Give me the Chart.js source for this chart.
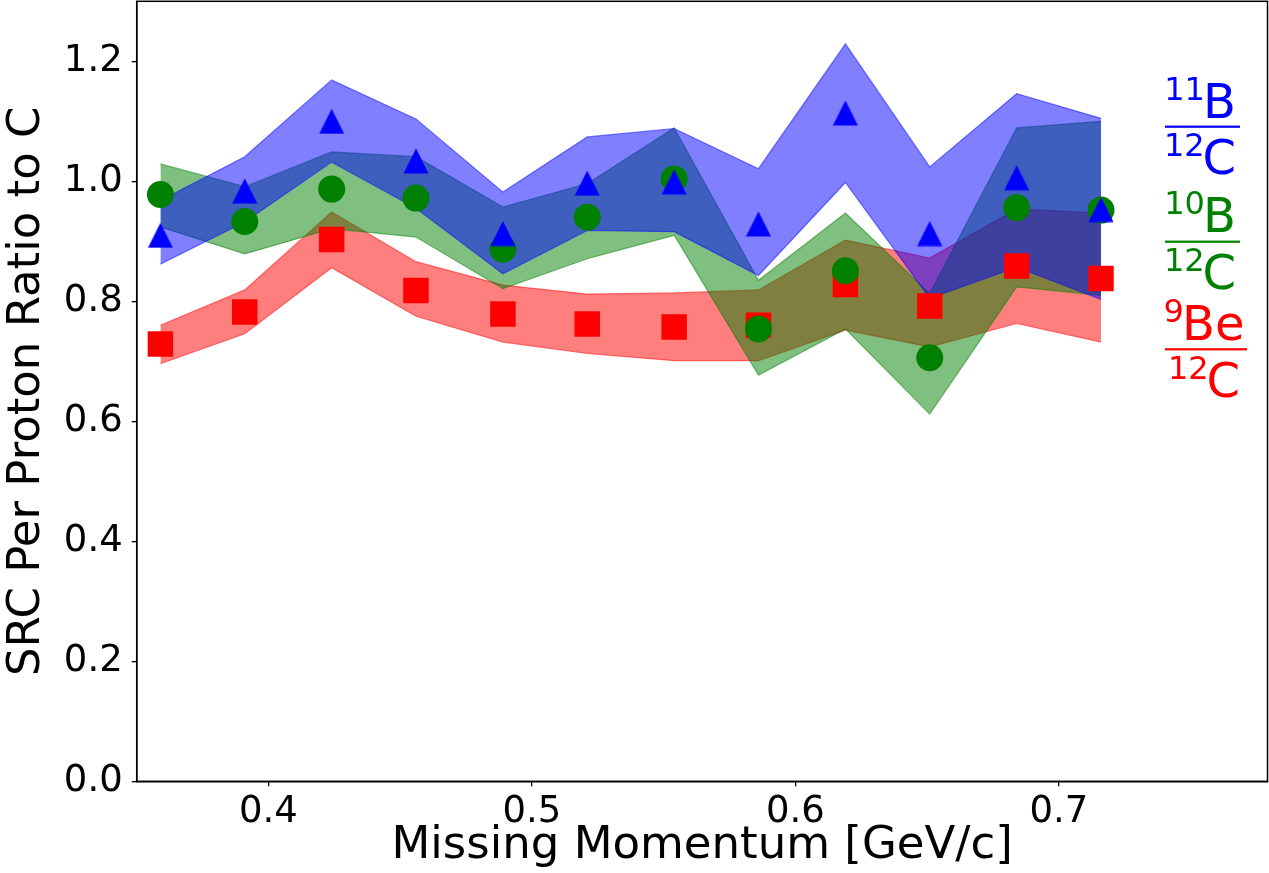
<!DOCTYPE html>
<html>
<head>
<meta charset="utf-8">
<script src="https://cdn.jsdelivr.net/npm/chart.js"></script>
<style>
  html, body { margin: 0; padding: 0; background: #fff; }
  #wrap { width: 1269px; height: 873px; }
</style>
</head>
<body>
<div id="wrap"><canvas id="chart" width="1269" height="873"></canvas></div>
<script>
// missing momentum bin centres
const xVals = [0.359, 0.391, 0.424, 0.456, 0.489, 0.521, 0.554, 0.586, 0.619, 0.651, 0.684, 0.716];

// 11B / 12C
const blueVals = [0.910, 0.984, 1.100, 1.034, 0.913, 0.997, 0.999, 0.929, 1.114, 0.913, 1.006, 0.953];
const blueHigh = [0.968, 1.041, 1.169, 1.104, 0.982, 1.074, 1.088, 1.021, 1.229, 1.024, 1.146, 1.105];
const blueLow  = [0.862, 0.932, 1.032, 0.955, 0.846, 0.918, 0.916, 0.843, 0.998, 0.805, 0.857, 0.803];

// 10B / 12C
const greenVals = [0.978, 0.933, 0.987, 0.972, 0.887, 0.940, 1.004, 0.754, 0.851, 0.706, 0.956, 0.952];
const greenHigh = [1.029, 0.991, 1.049, 1.041, 0.957, 0.996, 1.089, 0.835, 0.947, 0.813, 1.089, 1.100];
const greenLow  = [0.924, 0.879, 0.921, 0.907, 0.821, 0.871, 0.910, 0.677, 0.754, 0.612, 0.824, 0.810];

// 9Be / 12C
const redVals = [0.729, 0.782, 0.903, 0.818, 0.779, 0.762, 0.757, 0.760, 0.828, 0.792, 0.859, 0.838];
const redHigh = [0.760, 0.819, 0.949, 0.866, 0.827, 0.812, 0.814, 0.819, 0.902, 0.872, 0.954, 0.947];
const redLow  = [0.696, 0.746, 0.856, 0.775, 0.732, 0.713, 0.701, 0.701, 0.752, 0.724, 0.763, 0.732];

const xTicks = [0.4, 0.5, 0.6, 0.7];
const yTicks = [0.0, 0.2, 0.4, 0.6, 0.8, 1.0, 1.2];

const FONT = "'DejaVu Sans', sans-serif";

function pts(ys) {
    return xVals.map((x, i) => ({ x: x, y: ys[i] }));
}

function triangleMarker(size, color) {
    const c = document.createElement('canvas');
    c.width = size;
    c.height = size;
    const g = c.getContext('2d');
    g.fillStyle = color;
    g.beginPath();
    g.moveTo(size / 2, 0.5);
    g.lineTo(size - 0.5, size - 0.5);
    g.lineTo(0.5, size - 0.5);
    g.closePath();
    g.fill();
    return c;
}

function band(low, high, rgb, order) {
    const fill = 'rgba(' + rgb + ',0.5)';
    return [
        {
            data: pts(low), showLine: true, fill: false,
            borderColor: fill, borderWidth: 1.2, pointRadius: 0, order: order
        },
        {
            data: pts(high), showLine: true, fill: '-1',
            backgroundColor: fill, borderColor: fill, borderWidth: 1.2, pointRadius: 0, order: order
        }
    ];
}

// keep the plot box fixed, no extra room for end labels
function fixBox(s, w, h) {
    if (w) s.width = w;
    if (h) s.height = h;
    s.paddingTop = 0;
    s.paddingBottom = 0;
    s.paddingLeft = 0;
    s.paddingRight = 0;
}

// frame on top and right + fraction labels
const framePlugin = {
    id: 'frame',
    afterDraw(chart) {
        const ctx = chart.ctx;
        const a = chart.chartArea;
        ctx.save();
        ctx.strokeStyle = '#000';
        ctx.lineWidth = 1.5;
        ctx.strokeRect(a.left, a.top, a.right - a.left, a.bottom - a.top);

        function frac(cx, supN, mainN, baseN, supD, mainD, baseD, barY, barL, barR, color) {
            ctx.fillStyle = color;
            ctx.textAlign = 'left';
            ctx.textBaseline = 'alphabetic';
            const big = '48px ' + FONT, small = '32px ' + FONT;
            [[supN, mainN, baseN], [supD, mainD, baseD]].forEach(r => {
                ctx.font = small;
                const w1 = ctx.measureText(r[0]).width;
                ctx.font = big;
                const w2 = ctx.measureText(r[1]).width;
                const x0 = cx - (w1 + w2) / 2;
                ctx.font = small;
                ctx.fillText(r[0], x0, r[2] - 18);
                ctx.font = big;
                ctx.fillText(r[1], x0 + w1 - 2, r[2]);
            });
            ctx.fillRect(barL, barY - 1.1, barR - barL, 2.2);
        }
        frac(1201, '11', 'B', 118, '12', 'C', 174, 126.7, 1165, 1240, '#0000ff');
        frac(1201, '10', 'B', 231.5, '12', 'C', 289, 241.7, 1165, 1240, '#008000');
        frac(1205, '9', 'Be', 340, '12', 'C', 397, 349.3, 1165, 1247, '#ff0000');
        ctx.restore();
    }
};

const datasets = [].concat(
    band(redLow, redHigh, '255,0,0', 10),
    band(greenLow, greenHigh, '0,128,0', 9),
    band(blueLow, blueHigh, '0,0,255', 8),
    [
        { data: pts(redVals), pointStyle: 'rect', pointRadius: 18, pointBorderWidth: 0,
          pointBackgroundColor: '#ff0000', showLine: false, order: 3 },
        { data: pts(greenVals), pointStyle: 'circle', pointRadius: 13.5, pointBorderWidth: 0,
          pointBackgroundColor: '#008000', showLine: false, order: 2 },
        { data: pts(blueVals), pointStyle: triangleMarker(26, '#0000ff'), pointRadius: 13,
          showLine: false, order: 1 }
    ]
);

new Chart(document.getElementById('chart'), {
    type: 'scatter',
    data: { datasets: datasets },
    plugins: [framePlugin],
    options: {
        responsive: false,
        animation: false,
        layout: { autoPadding: false, padding: { top: 1.3, right: 1.5, left: 0, bottom: 0 } },
        plugins: {
            legend: { display: false },
            tooltip: { enabled: false },
            filler: { propagate: false }
        },
        elements: { line: { tension: 0 } },
        scales: {
            x: {
                type: 'linear',
                min: 0.35,
                max: 0.7792,
                afterFit: s => fixBox(s, 0, 91.7),
                afterBuildTicks: s => { s.ticks = xTicks.map(v => ({ value: v })); },
                grid: { drawOnChartArea: false, drawTicks: true, tickLength: 5, color: '#000', lineWidth: 1.3 },
                border: { display: true, color: '#000', width: 1.5 },
                ticks: {
                    color: '#000', padding: 4,
                    font: { family: FONT, size: 37 },
                    callback: v => v.toFixed(1)
                },
                title: {
                    display: true, text: 'Missing Momentum [GeV/c]', color: '#000',
                    font: { family: FONT, size: 45, lineHeight: 1.2 },
                    padding: { top: 0, bottom: 0 }
                }
            },
            y: {
                type: 'linear',
                min: 0,
                max: 1.3,
                afterFit: s => fixBox(s, 136.7, 0),
                afterBuildTicks: s => { s.ticks = yTicks.map(v => ({ value: v })); },
                grid: { drawOnChartArea: false, drawTicks: true, tickLength: 5, color: '#000', lineWidth: 1.3 },
                border: { display: true, color: '#000', width: 1.5 },
                ticks: {
                    color: '#000', padding: 9,
                    font: { family: FONT, size: 37 },
                    callback: v => v.toFixed(1)
                },
                title: {
                    display: true, text: 'SRC Per Proton Ratio to C', color: '#000',
                    font: { family: FONT, size: 45, lineHeight: 1.2 },
                    padding: { top: 0, bottom: 0 }
                }
            }
        }
    }
});
</script>
</body>
</html>
